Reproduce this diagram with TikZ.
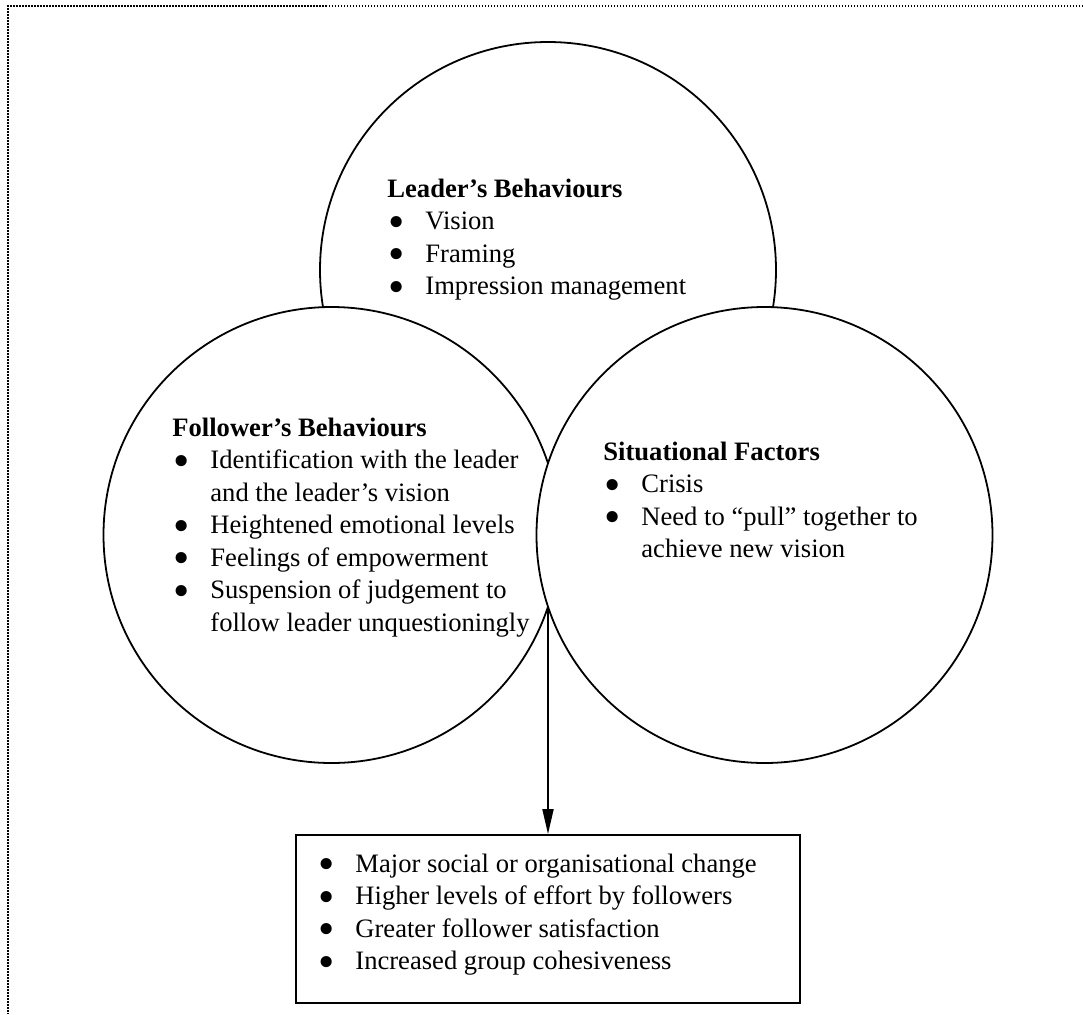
\documentclass[tikz,border=0pt]{standalone}
\usepackage{fontspec}
\usepackage{graphicx}
\setmainfont{Liberation Serif}
\usetikzlibrary{arrows.meta}

% bullet and hanging indent for the item lists
\newcommand\bl{\makebox[19pt][l]{\hspace{0.3pt}\raisebox{-3.8pt}[0pt][0pt]{\scalebox{1.75}{•}}}}
\newcommand\ct{\hspace{19pt}}

\tikzset{
  ring/.style={circle, draw, fill=white, line width=0.9pt, minimum size=228pt, inner sep=0pt},
  blk/.style={anchor=base west, inner sep=0pt, font=\fontsize{13.3pt}{16.25pt}\selectfont},
  outbox/.style={draw, line width=0.9pt, minimum width=252pt, minimum height=84pt, inner sep=0pt},
  frame/.style={line width=0.75pt, dash pattern=on 0.75pt off 0.75pt},
  flow/.style={line width=0.9pt, -{Triangle[length=12.5pt, width=5.5pt]}}
}

\begin{document}
\begin{tikzpicture}[x=0.5pt, y=-0.5pt]
\useasboundingbox (0,0) rectangle (1083,1014);

% page frame
\coordinate (fc) at (8,6);
\coordinate (fr) at (1083,6);
\coordinate (fb) at (8,1014);
\draw[frame] (fr) -- (fc) -- (fb);

% three overlapping circles
\node[ring] (lead) at (548,270) {};
\node[ring] (foll) at (331.5,535) {};
\node[ring] (sit)  at (764.5,535) {};

\node[blk] (leadtxt) at (387,197) {\begin{tabular}[t]{@{}l@{}}
\textbf{Leader’s Behaviours}\\
\bl Vision\\
\bl Framing\\
\bl Impression management
\end{tabular}};

\node[blk] (folltxt) at (172,436) {\begin{tabular}[t]{@{}l@{}}
\textbf{Follower’s Behaviours}\\
\bl Identification with the leader\\
\ct and the leader’s vision\\
\bl Heightened emotional levels\\
\bl Feelings of empowerment\\
\bl Suspension of judgement to\\
\ct follow leader unquestioningly
\end{tabular}};

\node[blk] (sittxt) at (603,460) {\begin{tabular}[t]{@{}l@{}}
\textbf{Situational Factors}\\
\bl Crisis\\
\bl Need to “pull” together to\\
\ct achieve new vision
\end{tabular}};

% outcomes
\node[outbox] (out) at (548,919) {};
\node[blk] (outtxt) at (317,872) {\begin{tabular}[t]{@{}l@{}}
\bl Major social or organisational change\\
\bl Higher levels of effort by followers\\
\bl Greater follower satisfaction\\
\bl Increased group cohesiveness
\end{tabular}};

% lower meeting point of the two lower circles
\coordinate (meet) at (548,606.5);
\draw[flow] (meet) -- (out.north);
\end{tikzpicture}
\end{document}
